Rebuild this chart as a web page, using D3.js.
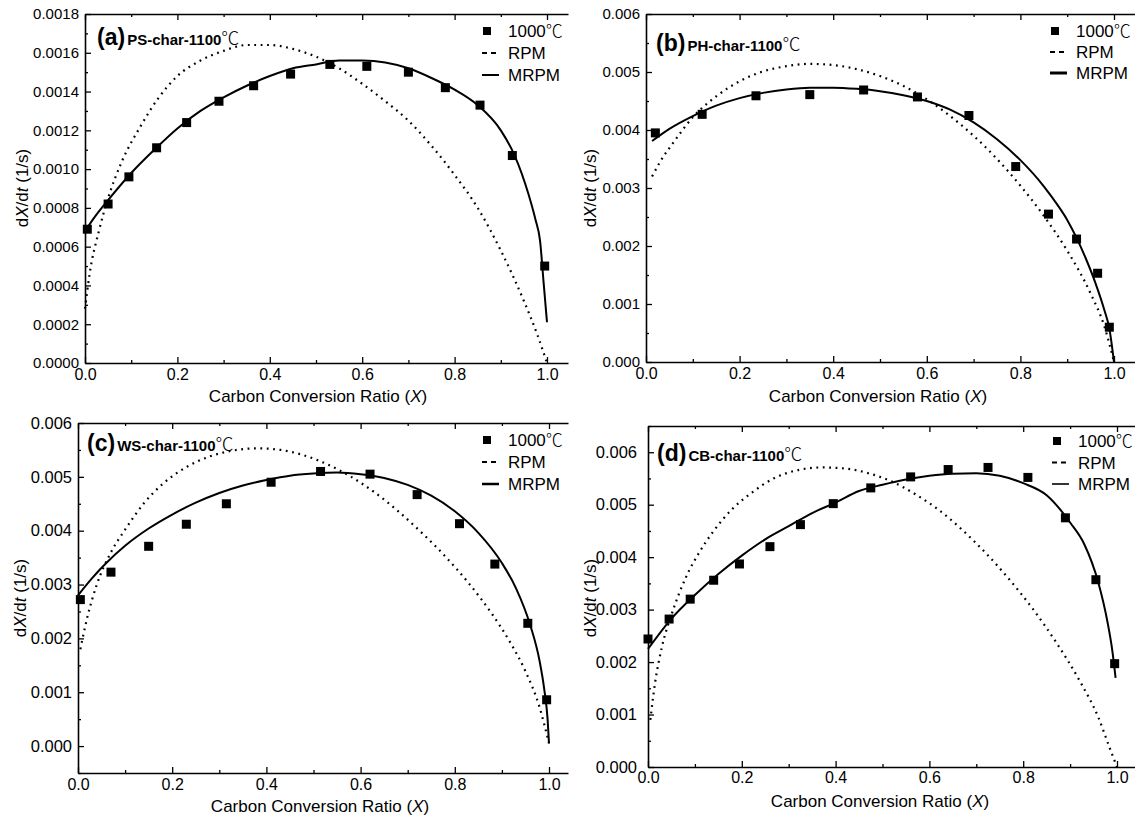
<!DOCTYPE html>
<html>
<head>
<meta charset="utf-8">
<script src="https://cdn.jsdelivr.net/npm/d3@7"></script>
<style>
  body { margin: 0; background: #fff; }
  svg { display: block; }
  text { font-family: "Liberation Sans", Arial, sans-serif; fill: #000; }
</style>
</head>
<body>
<svg id="chart" width="1135" height="815"></svg>
<script>
// ---- shared ticks ----
const xTicks = [0, 0.2, 0.4, 0.6, 0.8, 1.0];
const xMinorTicks = [0.1, 0.3, 0.5, 0.7, 0.9];

// ---- (a) PS-char ----
const psX = [0.005, 0.05, 0.095, 0.155, 0.22, 0.29, 0.365, 0.445, 0.53, 0.61, 0.70, 0.78, 0.855, 0.925, 0.995];
const psY = [0.00069, 0.00082, 0.00096, 0.00111, 0.00124, 0.00135, 0.00143, 0.00149, 0.00154, 0.00153, 0.00150, 0.00142, 0.00133, 0.00107, 0.00050];
const psRpmX = [0, 0.01, 0.03, 0.05, 0.08, 0.12, 0.16, 0.2, 0.25, 0.3, 0.35, 0.4, 0.45, 0.5, 0.55, 0.6, 0.65, 0.7, 0.75, 0.8, 0.85, 0.9, 0.95, 0.98, 1.0];
const psRpmY = [0.00028, 0.00046, 0.00068, 0.00085, 0.00104, 0.00122, 0.00137, 0.00148, 0.00156, 0.00161, 0.00164, 0.00164, 0.00162, 0.00158, 0.00152, 0.00144, 0.00135, 0.00125, 0.00112, 0.00097, 0.0008, 0.00058, 0.00032, 0.00014, 0.0];
const psMrpmX = [0, 0.02, 0.05, 0.1, 0.15, 0.2, 0.25, 0.3, 0.35, 0.4, 0.45, 0.5, 0.55, 0.6, 0.65, 0.7, 0.75, 0.8, 0.85, 0.9, 0.93, 0.96, 0.975, 0.985, 0.9925, 1.0];
const psMrpmY = [0.00068, 0.00075, 0.00084, 0.00098, 0.0011, 0.00121, 0.0013, 0.00137, 0.00143, 0.00148, 0.00152, 0.00154, 0.00156, 0.00156, 0.00155, 0.00152, 0.00147, 0.00141, 0.00133, 0.0012, 0.00107, 0.00087, 0.00074, 0.00063, 0.00042, 0.00021];
const psYTicks = [0, 0.0002, 0.0004, 0.0006, 0.0008, 0.0010, 0.0012, 0.0014, 0.0016, 0.0018];
const psYMinor = [0.0001, 0.0003, 0.0005, 0.0007, 0.0009, 0.0011, 0.0013, 0.0015, 0.0017];

// ---- (b) PH-char ----
const phX = [0.02, 0.12, 0.235, 0.35, 0.465, 0.58, 0.69, 0.79, 0.86, 0.92, 0.965, 0.99];
const phY = [0.00395, 0.00427, 0.00459, 0.00461, 0.00469, 0.00457, 0.00425, 0.00337, 0.00255, 0.00212, 0.00153, 0.0006];
const phRpmX = [0.013, 0.03, 0.06, 0.1, 0.15, 0.2, 0.25, 0.3, 0.35, 0.4, 0.45, 0.5, 0.55, 0.6, 0.65, 0.7, 0.75, 0.8, 0.85, 0.9, 0.95, 0.98, 1.0];
const phRpmY = [0.0032, 0.00345, 0.0038, 0.00422, 0.00458, 0.00484, 0.00501, 0.0051, 0.00514, 0.00512, 0.00505, 0.00493, 0.00476, 0.00453, 0.00424, 0.0039, 0.0035, 0.00304, 0.00252, 0.00192, 0.00118, 0.0006, 0.0];
const phMrpmX = [0.013, 0.05, 0.1, 0.15, 0.2, 0.25, 0.3, 0.35, 0.4, 0.45, 0.5, 0.55, 0.6, 0.65, 0.7, 0.75, 0.8, 0.85, 0.88, 0.9, 0.92, 0.94, 0.96, 0.98, 0.99, 1.0];
const phMrpmY = [0.00381, 0.00402, 0.00424, 0.00442, 0.00455, 0.00464, 0.0047, 0.00473, 0.00473, 0.00471, 0.00467, 0.0046, 0.0045, 0.00435, 0.00413, 0.00384, 0.00348, 0.00303, 0.0027, 0.00245, 0.00214, 0.00178, 0.00137, 0.00088, 0.00058, 0.0];
const phYTicks = [0, 0.001, 0.002, 0.003, 0.004, 0.005, 0.006];
const phYMinor = [0.0005, 0.0015, 0.0025, 0.0035, 0.0045, 0.0055];

// ---- (c) WS-char ----
const wsX = [0.005, 0.07, 0.15, 0.23, 0.315, 0.41, 0.515, 0.62, 0.72, 0.81, 0.885, 0.955, 0.995];
const wsY = [0.00272, 0.00323, 0.00371, 0.00412, 0.0045, 0.0049, 0.0051, 0.00505, 0.00467, 0.00413, 0.00338, 0.00228, 0.00086];
const wsRpmX = [0.005, 0.02, 0.04, 0.07, 0.1, 0.14, 0.18, 0.23, 0.28, 0.33, 0.38, 0.43, 0.48, 0.53, 0.58, 0.63, 0.68, 0.73, 0.78, 0.83, 0.88, 0.92, 0.95, 0.98, 1.0];
const wsRpmY = [0.0018, 0.0024, 0.003, 0.0036, 0.00402, 0.00451, 0.00487, 0.00518, 0.00538, 0.00549, 0.00553, 0.0055, 0.0054, 0.00523, 0.005, 0.00471, 0.00436, 0.00396, 0.00352, 0.00302, 0.00244, 0.00189, 0.00139, 0.00072, 0.00005];
const wsMrpmX = [0, 0.03, 0.06, 0.1, 0.15, 0.2, 0.25, 0.3, 0.35, 0.4, 0.45, 0.5, 0.55, 0.6, 0.65, 0.7, 0.75, 0.8, 0.85, 0.9, 0.93, 0.96, 0.98, 0.99, 0.997, 1.0];
const wsMrpmY = [0.0028, 0.00312, 0.0034, 0.00372, 0.00404, 0.0043, 0.00452, 0.0047, 0.00484, 0.00494, 0.00502, 0.00506, 0.00508, 0.00505, 0.00498, 0.00485, 0.00465, 0.00436, 0.00396, 0.0034, 0.00293, 0.00225, 0.00158, 0.00105, 0.0005, 0.00005];
const wsYTicks = [0, 0.001, 0.002, 0.003, 0.004, 0.005, 0.006];
const wsYMinor = [-0.0005, 0.0005, 0.0015, 0.0025, 0.0035, 0.0045, 0.0055];

// ---- (d) CB-char ----
const cbX = [0.0, 0.045, 0.09, 0.14, 0.195, 0.26, 0.325, 0.395, 0.475, 0.56, 0.64, 0.725, 0.81, 0.89, 0.955, 0.995];
const cbY = [0.00244, 0.00282, 0.0032, 0.00356, 0.00387, 0.0042, 0.00462, 0.00502, 0.00532, 0.00553, 0.00567, 0.00571, 0.00552, 0.00475, 0.00357, 0.00197];
const cbRpmX = [0.005, 0.015, 0.03, 0.05, 0.08, 0.11, 0.14, 0.18, 0.22, 0.27, 0.32, 0.37, 0.42, 0.47, 0.52, 0.57, 0.62, 0.67, 0.72, 0.77, 0.82, 0.87, 0.92, 0.96, 0.985, 1.0];
const cbRpmY = [0.0009, 0.0016, 0.0023, 0.0029, 0.0036, 0.0041, 0.0045, 0.00492, 0.00522, 0.00551, 0.00566, 0.00571, 0.00569, 0.0056, 0.00544, 0.0052, 0.0049, 0.00452, 0.00408, 0.00358, 0.00302, 0.00238, 0.00165, 0.00095, 0.00035, 0.0];
const cbMrpmX = [0, 0.05, 0.1, 0.15, 0.2, 0.25, 0.3, 0.35, 0.4, 0.45, 0.5, 0.55, 0.6, 0.65, 0.7, 0.75, 0.8, 0.85, 0.885, 0.9, 0.93, 0.96, 0.98, 0.99, 0.997];
const cbMrpmY = [0.00225, 0.00283, 0.00328, 0.00368, 0.00403, 0.00434, 0.00459, 0.00484, 0.00504, 0.00526, 0.00538, 0.00548, 0.00555, 0.00559, 0.0056, 0.00555, 0.00541, 0.00518, 0.00484, 0.00466, 0.00425, 0.00352, 0.00275, 0.00222, 0.0017];
const cbYTicks = [0, 0.001, 0.002, 0.003, 0.004, 0.005, 0.006];
const cbYMinor = [0.0005, 0.0015, 0.0025, 0.0035, 0.0045, 0.0055, 0.0065];

const legendLabels = ["1000\u2103", "RPM", "MRPM"];

// ---- panel layout (pixel boxes) ----
const panels = [
  { tag: "(a)", name: "PS-char-1100", px: psX, py: psY, rx: psRpmX, ry: psRpmY, mx: psMrpmX, my: psMrpmY,
    yTicks: psYTicks, yMinor: psYMinor, yDomain: [0, 0.0018], fmt: ".4f", yFont: 15,
    left: 85, xOne: 547, right: 568, top: 14, bottom: 363,
    titleX: 97, titleY: 45, legX: 487, legY: 31, legGap: 22, legLineW: 2,
    yLabX: 22, yLabY: 188, xLabX: 318, xLabY: 402, xPad: 6, yPad: 6 },
  { tag: "(b)", name: "PH-char-1100", px: phX, py: phY, rx: phRpmX, ry: phRpmY, mx: phMrpmX, my: phMrpmY,
    yTicks: phYTicks, yMinor: phYMinor, yDomain: [0, 0.006], fmt: ".3f", yFont: 15,
    left: 646, xOne: 1114, right: 1135, top: 14, bottom: 362,
    titleX: 656, titleY: 51, legX: 1055, legY: 31, legGap: 21, legLineW: 3,
    yLabX: 590, yLabY: 188, xLabX: 878, xLabY: 402, xPad: 6, yPad: 6 },
  { tag: "(c)", name: "WS-char-1100", px: wsX, py: wsY, rx: wsRpmX, ry: wsRpmY, mx: wsMrpmX, my: wsMrpmY,
    yTicks: wsYTicks, yMinor: wsYMinor, yDomain: [-0.0005, 0.006], fmt: ".3f", yFont: 16.5,
    left: 78, xOne: 549, right: 568, top: 423, bottom: 773,
    titleX: 87, titleY: 451, legX: 487, legY: 440, legGap: 22, legLineW: 2.5,
    yLabX: 20, yLabY: 598, xLabX: 320, xLabY: 812, xPad: 6, yPad: 6 },
  { tag: "(d)", name: "CB-char-1100", px: cbX, py: cbY, rx: cbRpmX, ry: cbRpmY, mx: cbMrpmX, my: cbMrpmY,
    yTicks: cbYTicks, yMinor: cbYMinor, yDomain: [0, 0.0065], fmt: ".3f", yFont: 16.5,
    left: 648, xOne: 1117, right: 1135, top: 426, bottom: 767,
    titleX: 657, titleY: 461, legX: 1057, legY: 441, legGap: 21.5, legLineW: 1.6,
    yLabX: 590, yLabY: 598, xLabX: 880, xLabY: 807, xPad: 5, yPad: 11 }
];

const svg = d3.select("#chart");

function styleAxis(sel, width) {
  sel.select(".domain").attr("stroke", "#000").attr("stroke-width", width);
  sel.selectAll(".tick line").attr("stroke", "#000").attr("stroke-width", 1.3);
}

function drawPanel(p) {
  const x = d3.scaleLinear()
    .domain([0, (p.right - p.left) / (p.xOne - p.left)])
    .range([p.left, p.right]);
  const y = d3.scaleLinear().domain(p.yDomain).range([p.bottom, p.top]);
  const g = svg.append("g");

  // bottom axis with labels, inward ticks
  const bx = g.append("g").attr("transform", `translate(0,${p.bottom})`)
    .call(d3.axisBottom(x).tickValues(xTicks).tickSize(-6).tickSizeOuter(0)
      .tickPadding(p.xPad).tickFormat(d3.format(".1f")));
  styleAxis(bx, 1.6);
  bx.selectAll("text").attr("font-size", 16).attr("font-family", "Liberation Sans, Arial, sans-serif");
  const bxm = g.append("g").attr("transform", `translate(0,${p.bottom})`)
    .call(d3.axisBottom(x).tickValues(xMinorTicks).tickSize(-3).tickSizeOuter(0).tickFormat(""));
  bxm.select(".domain").remove();
  styleAxis(bxm, 1.6);

  // top axis: ticks only
  const tx = g.append("g").attr("transform", `translate(0,${p.top})`)
    .call(d3.axisTop(x).tickValues(xTicks).tickSize(-6).tickSizeOuter(0).tickFormat(""));
  styleAxis(tx, 1.6);
  const txm = g.append("g").attr("transform", `translate(0,${p.top})`)
    .call(d3.axisTop(x).tickValues(xMinorTicks).tickSize(-3).tickSizeOuter(0).tickFormat(""));
  txm.select(".domain").remove();
  styleAxis(txm, 1.6);

  // left axis
  const ly = g.append("g").attr("transform", `translate(${p.left},0)`)
    .call(d3.axisLeft(y).tickValues(p.yTicks).tickSize(-6).tickSizeOuter(0)
      .tickPadding(p.yPad).tickFormat(d3.format(p.fmt)));
  styleAxis(ly, 1.6);
  ly.selectAll("text").attr("font-size", p.yFont).attr("font-family", "Liberation Sans, Arial, sans-serif");
  const lym = g.append("g").attr("transform", `translate(${p.left},0)`)
    .call(d3.axisLeft(y).tickValues(p.yMinor).tickSize(-3).tickSizeOuter(0).tickFormat(""));
  lym.select(".domain").remove();
  styleAxis(lym, 1.6);

  // model curves
  const line = d3.line().x(d => x(d[0])).y(d => y(d[1])).curve(d3.curveMonotoneX);
  g.append("path").datum(d3.zip(p.rx, p.ry)).attr("d", line)
    .attr("fill", "none").attr("stroke", "#000").attr("stroke-width", 2.2)
    .attr("stroke-dasharray", "1.8,4.6").attr("stroke-linecap", "butt");
  g.append("path").datum(d3.zip(p.mx, p.my)).attr("d", line)
    .attr("fill", "none").attr("stroke", "#000").attr("stroke-width", 2);

  // measured points
  const s = 9;
  g.selectAll("rect.pt").data(d3.zip(p.px, p.py)).join("rect").attr("class", "pt")
    .attr("x", d => x(d[0]) - s / 2).attr("y", d => y(d[1]) - s / 2)
    .attr("width", s).attr("height", s).attr("fill", "#000");

  // panel title
  const t = g.append("text").attr("x", p.titleX).attr("y", p.titleY);
  t.append("tspan").attr("font-weight", "bold").attr("font-size", 23).text(p.tag);
  t.append("tspan").attr("font-weight", "bold").attr("font-size", 15).attr("dx", 2).text(p.name);
  t.append("tspan").attr("font-size", 18).attr("font-family", "Noto Sans CJK SC, sans-serif")
    .attr("font-weight", 300).text("\u2103");

  // legend
  const lg = g.append("g");
  lg.append("rect").attr("x", p.legX - 4).attr("y", p.legY - 4).attr("width", 8).attr("height", 8).attr("fill", "#000");
  lg.append("line").attr("x1", p.legX - 5).attr("x2", p.legX + 12)
    .attr("y1", p.legY + p.legGap).attr("y2", p.legY + p.legGap)
    .attr("stroke", "#000").attr("stroke-width", 2).attr("stroke-dasharray", "5,4");
  lg.append("line").attr("x1", p.legX - 5).attr("x2", p.legX + 12)
    .attr("y1", p.legY + 2 * p.legGap).attr("y2", p.legY + 2 * p.legGap)
    .attr("stroke", "#000").attr("stroke-width", p.legLineW);
  legendLabels.forEach((lab, i) => {
    const tt = lg.append("text").attr("x", p.legX + 21).attr("y", p.legY + i * p.legGap)
      .attr("dy", "0.36em").attr("font-size", 17);
    if (i === 0) {
      tt.append("tspan").text("1000");
      tt.append("tspan").attr("font-family", "Noto Sans CJK SC, sans-serif").attr("font-weight", 300).text("\u2103");
    } else {
      tt.text(lab);
    }
  });

  // axis titles
  const xt = g.append("text").attr("x", p.xLabX).attr("y", p.xLabY)
    .attr("text-anchor", "middle").attr("font-size", 17);
  xt.append("tspan").text("Carbon Conversion Ratio (");
  xt.append("tspan").attr("font-style", "italic").text("X");
  xt.append("tspan").text(")");

  const yt = g.append("text").attr("transform", `translate(${p.yLabX},${p.yLabY}) rotate(-90)`)
    .attr("text-anchor", "middle").attr("dy", "0.35em").attr("font-size", 17);
  yt.append("tspan").text("d");
  yt.append("tspan").attr("font-style", "italic").text("X");
  yt.append("tspan").text("/d");
  yt.append("tspan").attr("font-style", "italic").text("t");
  yt.append("tspan").text(" (1/s)");
}

panels.forEach(drawPanel);
</script>
</body>
</html>
